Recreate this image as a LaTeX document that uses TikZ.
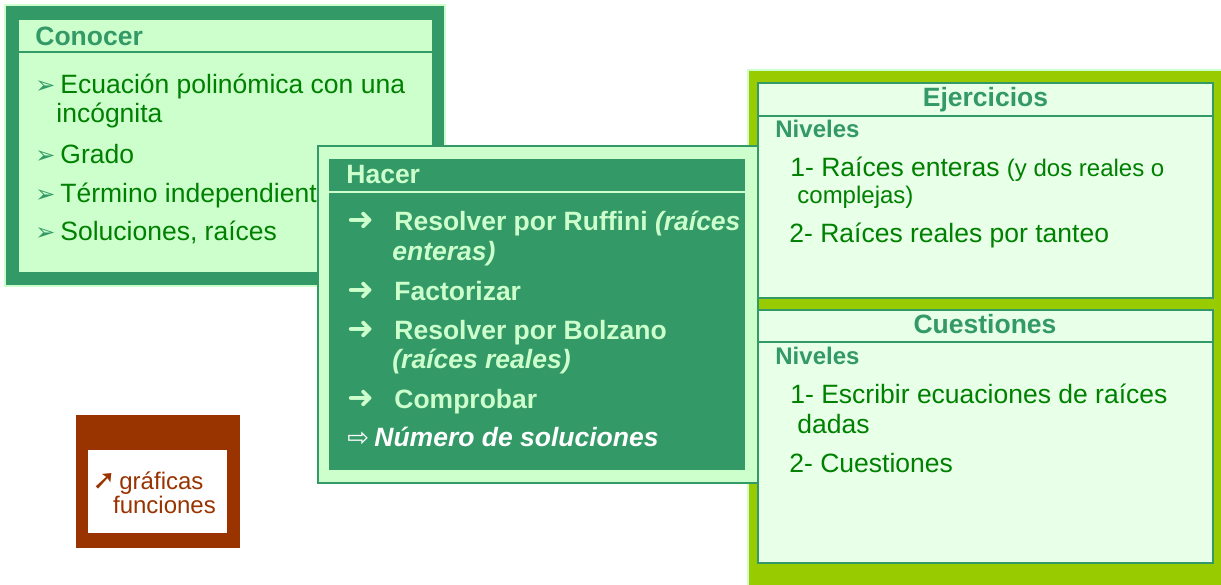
\documentclass[tikz,border=0pt]{standalone}
\usepackage{fontspec}
\setmainfont{Liberation Sans}
\newfontfamily\symfont{DejaVu Sans}

\definecolor{dkgreen}{HTML}{339966}
\definecolor{ltgreen}{HTML}{CCFFCC}
\definecolor{txtgreen}{HTML}{008000}
\definecolor{limegreen}{HTML}{99CC00}
\definecolor{palegreen}{HTML}{E8FFE8}
\definecolor{rust}{HTML}{993300}

\newcommand{\cbul}{\makebox[12.5pt][l]{\color{dkgreen}\symfont\fontsize{12}{12}\selectfont ➢}}
\newcommand{\harr}{\makebox[23.5pt][l]{\symfont\bfseries\fontsize{16}{16}\selectfont ➜}}

\begin{document}
\begin{tikzpicture}[x=0.5pt, y=-0.5pt,
  head/.style = {font=\bfseries\fontsize{13.25}{15}\selectfont, inner sep=0pt, anchor=base west},
  item/.style = {font=\fontsize{13.25}{15}\selectfont, text=txtgreen, inner sep=0pt, anchor=base west},
  note/.style = {font=\fontsize{12}{14}\selectfont, text=txtgreen, inner sep=0pt, anchor=base west},
  act/.style  = {font=\bfseries\fontsize{13.25}{15}\selectfont, text=ltgreen, inner sep=0pt, anchor=base west},
  level/.style = {font=\bfseries\fontsize{12}{14}\selectfont, text=dkgreen, inner sep=0pt, anchor=base west},
  panel/.style = {fill=palegreen, draw=dkgreen, line width=1pt}]
\useasboundingbox (0,0) rectangle (1221,584);

% Conocer
\filldraw[fill=dkgreen, draw=ltgreen, line width=1pt] (5,5) rectangle (445,286);
\fill[ltgreen] (19,20) rectangle (432,272);
\draw[dkgreen, line width=1pt] (19,52) -- (432,52);
\node[head, text=dkgreen] (conocer) at (35,45) {Conocer};
\node[item] (c1) at (35,93) {\cbul Ecuación polinómica con una};
\node[item] (c1b) at (56,122) {incógnita};
\node[item] (c2) at (35,163) {\cbul Grado};
\node[item] (c3) at (35,202) {\cbul Término independiente};
\node[item] (c4) at (35,240) {\cbul Soluciones, raíces};

% Ejercicios / Cuestiones
\filldraw[fill=limegreen, draw=ltgreen, line width=0.75pt] (748,70) rectangle (1226,590);
\filldraw[panel] (758,83) rectangle (1213,298);
\draw[dkgreen, line width=1pt] (758,116) -- (1213,116);
\node[head, text=dkgreen, anchor=base] (ejer) at (985.5,106.7) {Ejercicios};
\node[level] (niv1) at (775,137.7) {Niveles};
\node[item] (e1) at (790,176.7) {1- Raíces enteras {\fontsize{12}{14}\selectfont (y dos reales o}};
\node[note] (e1b) at (797,203.3) {complejas)};
\node[item] (e2) at (789,242.7) {2- Raíces reales por tanteo};

\filldraw[panel] (758,310) rectangle (1213,563);
\draw[dkgreen, line width=1pt] (758,342) -- (1213,342);
\node[head, text=dkgreen, anchor=base] (cuest) at (985,333.3) {Cuestiones};
\node[level] (niv2) at (775,364) {Niveles};
\node[item] (q1) at (790,403.3) {1- Escribir ecuaciones de raíces};
\node[item] (q1b) at (797,433.3) {dadas};
\node[item] (q2) at (789,472.7) {2- Cuestiones};

% Hacer
\filldraw[fill=ltgreen, draw=dkgreen, line width=0.75pt] (318,146) rectangle (758,483);
\fill[dkgreen] (329,159) rectangle (745,470);
\draw[ltgreen, line width=1pt] (329,192) -- (745,192);
\node[head, text=ltgreen] (hacer) at (346,183.3) {Hacer};
\node[act] (h1) at (347,230.7) {\harr Resolver por Ruffini \textit{(raíces}};
\node[act] (h1b) at (392,260) {\textit{enteras)}};
\node[act] (h2) at (347,300) {\harr Factorizar};
\node[act] (h3) at (347,339) {\harr Resolver por Bolzano};
\node[act] (h3b) at (392,368.3) {\textit{(raíces reales)}};
\node[act] (h4) at (347,408.3) {\harr Comprobar};
\node[act, text=white] (h5) at (347,446) {\makebox[13.5pt][l]{\symfont\mdseries\fontsize{13}{13}\selectfont ⇨}\textit{Número de soluciones}};

% graficas
\fill[rust] (76,415) rectangle (240,548);
\fill[white] (88,450) rectangle (227,533);
\node[note, text=rust] (g1) at (92,489.3) {\makebox[13.5pt][l]{\symfont\bfseries\fontsize{14}{14}\selectfont ➚}gráficas};
\node[note, text=rust] (g2) at (112.7,513.3) {funciones};
\end{tikzpicture}
\end{document}
